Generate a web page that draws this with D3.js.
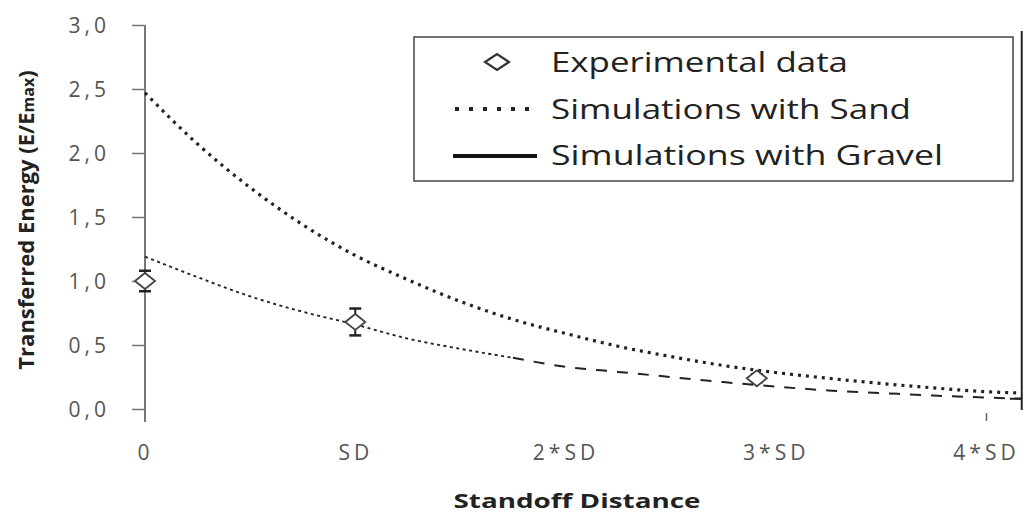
<!DOCTYPE html>
<html>
<head>
<meta charset="utf-8">
<script src="https://cdn.jsdelivr.net/npm/d3@7"></script>
<style>
  html, body { margin: 0; padding: 0; background: #fff; }
  svg { display: block; }
  text { font-family: "Open Sans", "Noto Sans", sans-serif; }
</style>
</head>
<body>
<svg id="chart" width="1032" height="515"></svg>
<script>
// Standoff distance in multiples of SD
const simX = [0, 0.25, 0.5, 0.75, 1, 1.25, 1.5, 1.75, 2, 2.25, 2.5, 2.75, 3, 3.25, 3.5, 3.75, 4, 4.17];
const sandE = [2.47, 2.07, 1.73, 1.44, 1.20, 1.01, 0.84, 0.70, 0.59, 0.49, 0.41, 0.34, 0.285, 0.24, 0.20, 0.165, 0.135, 0.125];
const gravelE = [1.19, 1.03, 0.88, 0.76, 0.66, 0.55, 0.47, 0.40, 0.33, 0.29, 0.25, 0.21, 0.175, 0.145, 0.125, 0.105, 0.09, 0.08];

const expX = [0, 1, 2.91];
const expE = [1.0, 0.68, 0.24];
const expErr = [0.08, 0.105, 0.03];

const xTickValues = [0, 1, 2, 3, 4];
const xTickLabels = ["0", "SD", "2*SD", "3*SD", "4*SD"];
const yTickValues = [0, 0.5, 1, 1.5, 2, 2.5, 3];

const legendLabels = ["Experimental data", "Simulations with Sand", "Simulations with Gravel"];

const svg = d3.select("#chart");

const x = d3.scaleLinear().domain([0, 4]).range([145, 986]);
const y = d3.scaleLinear().domain([0, 3]).range([409, 25]);

// ---- Y axis ----
const yAxis = d3.axisLeft(y)
  .tickValues(yTickValues)
  .tickSize(13)
  .tickPadding(22)
  .tickFormat(d => d3.format(".1f")(d).replace(".", ","));

const gy = svg.append("g").attr("transform", `translate(${x(0)},0)`).call(yAxis);
gy.select(".domain").remove();
gy.selectAll(".tick line").attr("stroke", "#777").attr("stroke-width", 1.5);
gy.selectAll(".tick text")
  .attr("fill", "#555")
  .style("font-size", "21px")
  .style("letter-spacing", "4px")
  .attr("dy", "0.36em");
gy.append("line")
  .attr("x1", 0).attr("x2", 0)
  .attr("y1", y(3)).attr("y2", 422)
  .attr("stroke", "#777").attr("stroke-width", 2);

// ---- X axis (labels only, single tick mark at the last position) ----
const xAxis = d3.axisBottom(x)
  .tickValues(xTickValues)
  .tickSize(0)
  .tickPadding(35)
  .tickFormat((d, i) => xTickLabels[i]);

const gx = svg.append("g").attr("transform", `translate(0,${y(0)})`).call(xAxis);
gx.select(".domain").remove();
gx.selectAll(".tick text")
  .attr("fill", "#555")
  .style("font-size", "21px")
  .style("letter-spacing", "4px")
  .attr("dx", "0px")
  .attr("dy", "0.36em")
  .attr("y", 43);
gx.selectAll(".tick")
  .filter(d => d === xTickValues[xTickValues.length - 1])
  .append("line")
  .attr("y1", 4).attr("y2", 12)
  .attr("stroke", "#666").attr("stroke-width", 1.5);

// ---- Axis titles ----
svg.append("text")
  .attr("x", 577).attr("y", 508)
  .attr("text-anchor", "middle")
  .attr("textLength", 247)
  .attr("lengthAdjust", "spacingAndGlyphs")
  .style("font-size", "19px")
  .style("font-weight", "700")
  .attr("fill", "#222")
  .text("Standoff Distance");

const yTitle = svg.append("text")
  .attr("transform", "translate(34,220) rotate(-90)")
  .attr("text-anchor", "middle")
  .style("font-size", "22px")
  .style("font-weight", "700")
  .attr("fill", "#222");
yTitle.append("tspan").text("Transferred Energy (E/E");
yTitle.append("tspan").style("font-size", "16px").text("max");
yTitle.append("tspan").text(")");

// ---- Simulation curves ----
const sandData = simX.map((v, i) => [v, sandE[i]]);
const gravelData = simX.map((v, i) => [v, gravelE[i]]);
const line = d3.line().x(d => x(d[0])).y(d => y(d[1])).curve(d3.curveMonotoneX);

svg.append("path")
  .datum(sandData)
  .attr("d", line)
  .attr("fill", "none")
  .attr("stroke", "#222")
  .attr("stroke-width", 3.2)
  .attr("stroke-dasharray", "3,5");

// gravel: fine dashes near the charge, longer dashes further out
const split = 1.75;
svg.append("path")
  .datum(gravelData.filter(d => d[0] <= split))
  .attr("d", line)
  .attr("fill", "none")
  .attr("stroke", "#222")
  .attr("stroke-width", 1.9)
  .attr("stroke-dasharray", "3,3.5");
svg.append("path")
  .datum(gravelData.filter(d => d[0] >= split))
  .attr("d", line)
  .attr("fill", "none")
  .attr("stroke", "#222")
  .attr("stroke-width", 2)
  .attr("stroke-dasharray", "11,10");

// right border line with end marker
const xEnd = x(simX[simX.length - 1]);
svg.append("line")
  .attr("x1", xEnd).attr("x2", xEnd)
  .attr("y1", 31).attr("y2", 410)
  .attr("stroke", "#222").attr("stroke-width", 2);
svg.append("line")
  .attr("x1", xEnd - 12).attr("x2", xEnd)
  .attr("y1", y(gravelE[gravelE.length - 1])).attr("y2", y(gravelE[gravelE.length - 1]))
  .attr("stroke", "#222").attr("stroke-width", 2);

// ---- Experimental data with error bars ----
const diamond = (cx, cy, w, h) => `M${cx - w},${cy}L${cx},${cy - h}L${cx + w},${cy}L${cx},${cy + h}Z`;

const exp = svg.append("g");
expX.forEach((v, i) => {
  const cx = x(v);
  const top = y(expE[i] + expErr[i]);
  const bot = y(expE[i] - expErr[i]);
  exp.append("line").attr("x1", cx).attr("x2", cx).attr("y1", top).attr("y2", bot)
    .attr("stroke", "#222").attr("stroke-width", 2);
  [top, bot].forEach(yy => exp.append("line")
    .attr("x1", cx - 6).attr("x2", cx + 6).attr("y1", yy).attr("y2", yy)
    .attr("stroke", "#222").attr("stroke-width", 2.5));
  exp.append("path")
    .attr("d", diamond(cx, y(expE[i]), 10, 8))
    .attr("fill", "#fff")
    .attr("stroke", "#444")
    .attr("stroke-width", 1.8);
});

// ---- Legend ----
const lg = svg.append("g");
lg.append("rect")
  .attr("x", 414).attr("y", 37).attr("width", 599).attr("height", 144)
  .attr("fill", "#fff").attr("stroke", "#444").attr("stroke-width", 1.5);

const rowBase = [72, 119, 165];
const rowMid = [62, 109, 156];
const textWidths = [297, 360, 392];
legendLabels.forEach((t, i) => {
  lg.append("text")
    .attr("x", 551).attr("y", rowBase[i])
    .attr("textLength", textWidths[i])
    .attr("lengthAdjust", "spacingAndGlyphs")
    .style("font-size", "28px")
    .attr("fill", "#222")
    .text(t);
});
lg.append("path")
  .attr("d", diamond(497, rowMid[0], 12, 8))
  .attr("fill", "#fff").attr("stroke", "#333").attr("stroke-width", 2.2);
lg.append("line")
  .attr("x1", 455).attr("x2", 530).attr("y1", rowMid[1]).attr("y2", rowMid[1])
  .attr("stroke", "#222").attr("stroke-width", 4).attr("stroke-dasharray", "4,10");
lg.append("line")
  .attr("x1", 453).attr("x2", 537).attr("y1", rowMid[2]).attr("y2", rowMid[2])
  .attr("stroke", "#111").attr("stroke-width", 4);
</script>
</body>
</html>
